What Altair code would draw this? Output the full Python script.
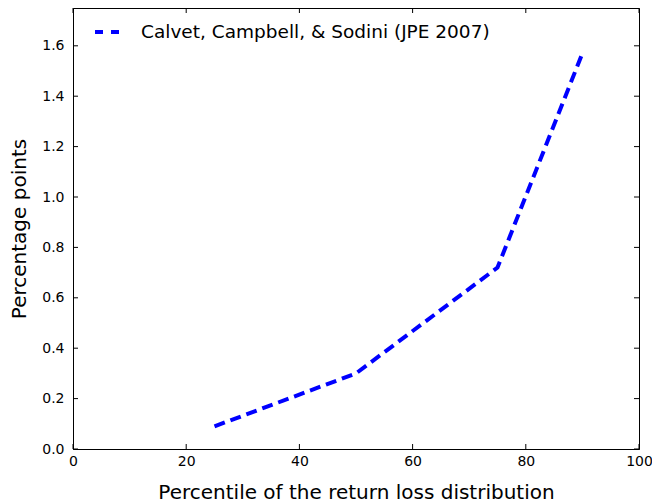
import altair as alt
import pandas as pd

percentile = [25, 50, 75, 90]
points = [0.09, 0.30, 0.72, 1.57]
series_name = "Calvet, Campbell, & Sodini (JPE 2007)"
x_ticks = [0, 20, 40, 60, 80, 100]
y_ticks = [0.0, 0.2, 0.4, 0.6, 0.8, 1.0, 1.2, 1.4, 1.6]

W, H = 566, 441
FONT = "DejaVu Sans"

df = pd.DataFrame({"x": percentile, "y": points})
dx = pd.DataFrame({"t": x_ticks})
dy = pd.DataFrame({"t": y_ticks})

xscale = alt.Scale(domain=[0, 100], nice=False)
yscale = alt.Scale(domain=[0, 1.75], nice=False)

line = alt.Chart(df).mark_line(color="#0000ff", strokeWidth=4, strokeDash=[11, 6]).encode(
    x=alt.X("x:Q", scale=xscale,
            axis=alt.Axis(values=x_ticks, title="Percentile of the return loss distribution",
                          tickSize=0, labelPadding=5, titlePadding=14, grid=False,
                          labelFlush=False, labelOverlap=False)),
    y=alt.Y("y:Q", scale=yscale,
            axis=alt.Axis(values=y_ticks, format=".1f", title="Percentage points",
                          tickSize=0, labelPadding=9, titlePadding=12, grid=False,
                          labelFlush=False, labelOverlap=False)),
)

tick_style = dict(color="black", strokeWidth=1)
xb = alt.Chart(dx).mark_rule(**tick_style).encode(x=alt.X("t:Q", scale=xscale), y=alt.value(H), y2=alt.value(H - 5))
xt = alt.Chart(dx).mark_rule(**tick_style).encode(x=alt.X("t:Q", scale=xscale), y=alt.value(0), y2=alt.value(5))
yl = alt.Chart(dy).mark_rule(**tick_style).encode(y=alt.Y("t:Q", scale=yscale), x=alt.value(0), x2=alt.value(5))
yr = alt.Chart(dy).mark_rule(**tick_style).encode(y=alt.Y("t:Q", scale=yscale), x=alt.value(W), x2=alt.value(W - 5))

leg_df = pd.DataFrame({"label": [series_name]})
leg_line = alt.Chart(leg_df).mark_rule(color="#0000ff", strokeWidth=4, strokeDash=[8, 8]).encode(
    x=alt.value(22), x2=alt.value(47), y=alt.value(24))
leg_text = alt.Chart(leg_df).mark_text(align="left", baseline="middle", font=FONT, fontSize=18.5, color="black").encode(
    x=alt.value(68), y=alt.value(24), text="label:N")

chart = alt.layer(line, xb, xt, yl, yr, leg_line, leg_text).properties(
    width=W, height=H,
    autosize=alt.AutoSizeParams(type="none"),
    padding={"left": 65, "top": 0, "right": 13, "bottom": 60},
).configure_view(stroke="black", strokeWidth=1).configure_axis(
    domainColor="black", labelColor="black", titleColor="black",
    labelFont=FONT, titleFont=FONT, labelFontSize=14, titleFontSize=20,
    titleFontWeight="normal",
)

chart.save("out.html", embed_options={"renderer": "svg", "actions": False})
